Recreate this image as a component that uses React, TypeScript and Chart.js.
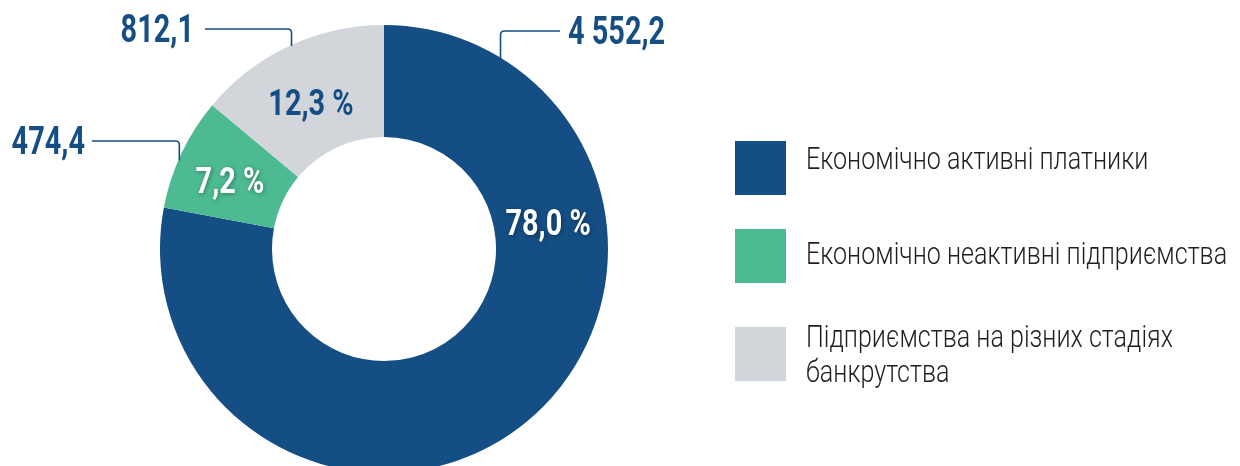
import React, { useEffect, useRef } from "react";
import { Chart, registerables } from "chart.js";

Chart.register(...registerables);

const categories = [
  "Економічно активні платники",
  "Економічно неактивні підприємства",
  "Підприємства на різних стадіях банкрутства",
];
const legendLines = [
  ["Економічно активні платники"],
  ["Економічно неактивні підприємства"],
  ["Підприємства на різних стадіях", "банкрутства"],
];
const values = [4552.2, 474.4, 812.1];
const valueLabels = ["4 552,2", "474,4", "812,1"];
const percentLabels = ["78,0 %", "7,2 %", "12,3 %"];
const colors = ["#154E84", "#4DBA92", "#D2D6DA"];
const percentColors = ["#FFFFFF", "#FFFFFF", "#154E84"];

const BLUE = "#154E84";

function drawScaled(
  ctx: CanvasRenderingContext2D,
  text: string,
  x: number,
  y: number,
  align: CanvasTextAlign,
  sx: number
) {
  ctx.save();
  ctx.translate(x, y);
  ctx.scale(sx, 1);
  ctx.textAlign = align;
  ctx.fillText(text, 0, 0);
  ctx.restore();
}

const overlayPlugin = {
  id: "overlay",
  afterDatasetsDraw(chart: any) {
    const ctx: CanvasRenderingContext2D = chart.ctx;
    const meta = chart.getDatasetMeta(0);
    const arc0 = meta.data[0];
    const cx = arc0.x;
    const cy = arc0.y;
    const R = arc0.outerRadius;

    // percent labels
    const pctAngles = [81.3, 293.5, 333.4];
    const pctRadius = [166, 168, 163];
    ctx.save();
    ctx.textBaseline = "middle";
    ctx.font = "bold 37px Roboto";
    percentLabels.forEach((t, i) => {
      const a = (pctAngles[i] * Math.PI) / 180;
      const x = cx + pctRadius[i] * Math.sin(a);
      const y = cy - pctRadius[i] * Math.cos(a);
      ctx.save();
      if (percentColors[i] === "#FFFFFF") {
        ctx.shadowColor = "rgba(0,0,0,0.35)";
        ctx.shadowBlur = 4;
        ctx.shadowOffsetX = 1;
        ctx.shadowOffsetY = 1;
      }
      ctx.fillStyle = percentColors[i];
      drawScaled(ctx, t, x, y + 2, "center", 0.78);
      ctx.restore();
    });
    ctx.restore();

    // leader lines + value labels
    const leaders = [
      { deg: 31.5, elbowY: 31, endX: 560, textX: 568, dir: 1 },
      { deg: 293.4, elbowY: 141, endX: 92, textX: 85, dir: -1 },
      { deg: 335.5, elbowY: 29, endX: 205, textX: 194, dir: -1 },
    ];
    ctx.save();
    ctx.strokeStyle = BLUE;
    ctx.lineWidth = 1.6;
    ctx.fillStyle = BLUE;
    ctx.font = "bold 38px Roboto";
    ctx.textBaseline = "middle";
    leaders.forEach((L, i) => {
      const a = (L.deg * Math.PI) / 180;
      const ax = cx + (R - 1) * Math.sin(a);
      const ay = cy - (R - 1) * Math.cos(a);
      const rad = 4;
      ctx.beginPath();
      ctx.moveTo(ax, ay);
      ctx.lineTo(ax, L.elbowY + rad);
      ctx.quadraticCurveTo(ax, L.elbowY, ax + L.dir * rad, L.elbowY);
      ctx.lineTo(L.endX, L.elbowY);
      ctx.stroke();
      drawScaled(
        ctx,
        valueLabels[i],
        L.textX,
        L.elbowY + 3,
        L.dir > 0 ? "left" : "right",
        0.76
      );
    });
    ctx.restore();

    // legend
    const sqTops = [141, 229, 327];
    const lineBaselines = [[169], [264], [347, 382]];
    ctx.save();
    legendLines.forEach((lines, i) => {
      ctx.fillStyle = colors[i];
      ctx.fillRect(735, sqTops[i], 51, 54);
      ctx.fillStyle = "#1E1E1E";
      ctx.font = "300 31px Roboto";
      ctx.textBaseline = "alphabetic";
      lines.forEach((ln, j) => {
        drawScaled(ctx, ln, 806, lineBaselines[i][j], "left", 0.81);
      });
    });
    ctx.restore();
  },
};

export default function App() {
  const ref = useRef<HTMLCanvasElement | null>(null);
  useEffect(() => {
    document.body.style.margin = "0";
    const canvas = ref.current!;
    const chart = new Chart(canvas, {
      type: "doughnut",
      data: {
        labels: categories,
        datasets: [
          {
            data: values,
            backgroundColor: colors,
            borderWidth: 0,
          },
        ],
      },
      options: {
        responsive: false,
        animation: false,
        cutout: "50%",
        layout: { padding: { left: 160, right: 632, top: 25, bottom: 7 } },
        plugins: {
          legend: { display: false },
          tooltip: { enabled: false },
        },
      },
      plugins: [overlayPlugin],
    });
    return () => chart.destroy();
  }, []);
  return (
    <div
      style={{
        position: "fixed",
        left: 0,
        top: 0,
        width: 1240,
        height: 466,
        overflow: "hidden",
        background: "#fff",
      }}
    >
      <canvas ref={ref} width={1240} height={480} style={{ display: "block" }} />
    </div>
  );
}
